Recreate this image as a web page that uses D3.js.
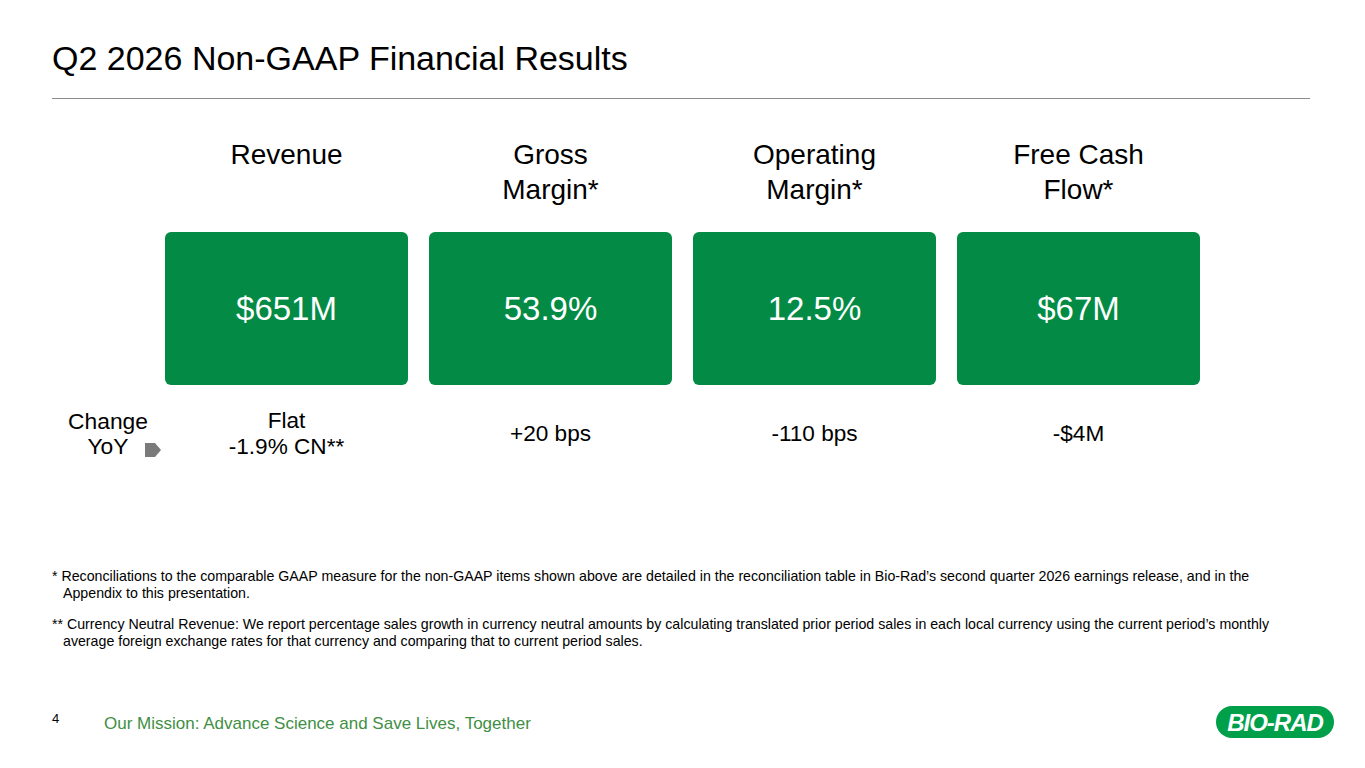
<!DOCTYPE html>
<html>
<head>
<meta charset="utf-8">
<script src="https://cdn.jsdelivr.net/npm/d3@7"></script>
<style>
  html, body { margin: 0; padding: 0; background: #fff; }
  svg { display: block; font-family: "Liberation Sans", Arial, sans-serif; }
</style>
</head>
<body>
<div id="slide"></div>
<script>
// --- data ---
const metrics = ["Revenue", "Gross Margin*", "Operating Margin*", "Free Cash Flow*"];
const headerLines = [["Revenue"], ["Gross", "Margin*"], ["Operating", "Margin*"], ["Free Cash", "Flow*"]];
const values = ["$651M", "53.9%", "12.5%", "$67M"];
const changes = [["Flat", "-1.9% CN**"], ["+20 bps"], ["-110 bps"], ["-$4M"]];
const rowLabel = ["Change", "YoY"];

const footnotes = [
  ["* Reconciliations to the comparable GAAP measure for the non-GAAP items shown above are detailed in the reconciliation table in Bio-Rad\u2019s second quarter 2026 earnings release, and in the",
   "Appendix to this presentation."],
  ["** Currency Neutral Revenue: We report percentage sales growth in currency neutral amounts by calculating translated prior period sales in each local currency using the current period\u2019s monthly",
   "average foreign exchange rates for that currency and comparing that to current period sales."]
];

const title = "Q2 2026 Non-GAAP Financial Results";
const mission = "Our Mission: Advance Science and Save Lives, Together";
const pageNumber = "4";

const width = 1365;
const height = 768;
const green = "#038b45";

const svg = d3
  .select("#slide")
  .append("svg")
  .attr("width", width)
  .attr("height", height)
  .attr("viewBox", [0, 0, width, height]);

// title + rule
svg.append("text")
  .attr("x", 52)
  .attr("y", 70)
  .attr("font-size", 34)
  .attr("fill", "#000")
  .text(title);

svg.append("line")
  .attr("x1", 52)
  .attr("x2", 1310)
  .attr("y1", 98.5)
  .attr("y2", 98.5)
  .attr("stroke", "#8c8c8c")
  .attr("stroke-width", 1.2);

// band scale for the four tiles
const x = d3.scaleBand()
  .domain(metrics)
  .range([165, 1200])
  .paddingInner(21 / 264)
  .paddingOuter(0);

const cols = svg.append("g")
  .selectAll("g")
  .data(metrics)
  .enter()
  .append("g")
  .attr("transform", (d) => `translate(${x(d)},0)`);

// headers
cols.append("text")
  .attr("text-anchor", "middle")
  .attr("font-size", 28)
  .attr("fill", "#000")
  .selectAll("tspan")
  .data((d, i) => headerLines[i])
  .enter()
  .append("tspan")
  .attr("x", x.bandwidth() / 2)
  .attr("y", (d, i) => 164 + i * 34.5)
  .text((d) => d);

// tiles
cols.append("rect")
  .attr("x", 0)
  .attr("y", 232)
  .attr("width", x.bandwidth())
  .attr("height", 153)
  .attr("rx", 6)
  .attr("fill", green);

cols.append("text")
  .attr("x", x.bandwidth() / 2)
  .attr("y", 320)
  .attr("text-anchor", "middle")
  .attr("font-size", 33)
  .attr("fill", "#fff")
  .text((d, i) => values[i]);

// change row
cols.append("text")
  .attr("text-anchor", "middle")
  .attr("font-size", 22.6)
  .attr("fill", "#000")
  .selectAll("tspan")
  .data((d, i) => changes[i].map((t, j, a) => ({ t, j, n: a.length })))
  .enter()
  .append("tspan")
  .attr("x", x.bandwidth() / 2)
  .attr("y", (d) => 441 + (d.j - (d.n - 1) / 2) * 25.5)
  .text((d) => d.t);

svg.append("text")
  .attr("text-anchor", "middle")
  .attr("font-size", 22.8)
  .attr("fill", "#000")
  .selectAll("tspan")
  .data(rowLabel)
  .enter()
  .append("tspan")
  .attr("x", 108)
  .attr("y", (d, i) => 428.5 + i * 25.5)
  .text((d) => d);

// little arrow marker
svg.append("path")
  .attr("d", "M145,443 L155,443 L161,450 L155,457 L145,457 Z")
  .attr("fill", "#7a7a7a");

// footnotes
const notes = svg.append("g")
  .attr("font-size", 14.2)
  .attr("fill", "#000");

footnotes.forEach((lines, k) => {
  lines.forEach((line, j) => {
    notes.append("text")
      .attr("x", j === 0 ? 52 : 63)
      .attr("y", 581 + k * 48 + j * 16.5)
      .text(line);
  });
});

// footer
svg.append("text")
  .attr("x", 52)
  .attr("y", 723)
  .attr("font-size", 13)
  .attr("fill", "#000")
  .text(pageNumber);

svg.append("text")
  .attr("x", 104)
  .attr("y", 729)
  .attr("font-size", 17)
  .attr("fill", "#3f8f45")
  .text(mission);

// logo
const logo = svg.append("g").attr("transform", "translate(1216,706)");
logo.append("rect")
  .attr("width", 118)
  .attr("height", 32)
  .attr("rx", 16)
  .attr("fill", "#00a04b");
logo.append("text")
  .attr("x", 59)
  .attr("y", 25)
  .attr("text-anchor", "middle")
  .attr("font-size", 24)
  .attr("font-weight", "bold")
  .attr("font-style", "italic")
  .attr("letter-spacing", -1)
  .attr("fill", "#fff")
  .text("BIO-RAD");
</script>
</body>
</html>
